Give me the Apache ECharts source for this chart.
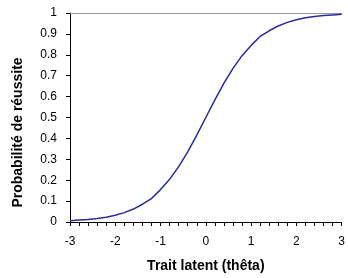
<!DOCTYPE html>
<html><head><meta charset="utf-8">
<script src="https://cdn.jsdelivr.net/npm/echarts@6/dist/echarts.min.js"></script>
<style>html,body{margin:0;padding:0;background:#fff}#c{width:348px;height:278px}</style>
</head><body><div id="c"></div>
<script>
var theta = ['-3','-2.8','-2.6','-2.4','-2.2','-2','-1.8','-1.6','-1.4','-1.2','-1','-0.8','-0.6','-0.4','-0.2','0','0.2','0.4','0.6','0.8','1','1.2','1.4','1.6','1.8','2','2.2','2.4','2.6','2.8','3'];
var prob = [0.006,0.009,0.012,0.017,0.023,0.032,0.045,0.062,0.085,0.112,0.155,0.204,0.265,0.336,0.416,0.5,0.584,0.664,0.735,0.796,0.845,0.888,0.915,0.938,0.955,0.968,0.977,0.983,0.988,0.991,0.994];
var xTitle = 'Trait latent (thêta)';
var yTitle = 'Probabilité de réussite';
var chart = echarts.init(document.getElementById('c'));
var font = 'Liberation Sans, Arial, sans-serif';
chart.setOption({
  animation:false,
  grid:{left:70,right:4,top:13,bottom:54},
  xAxis:[{
    type:'category', data:theta, boundaryGap:false,
    axisLine:{lineStyle:{color:'#000',width:1}},
    axisTick:{interval:0,length:4,lineStyle:{color:'#000'}},
    axisLabel:{interval:4,color:'#000',fontFamily:font,fontSize:12,margin:14},
    name:xTitle, nameLocation:'middle', nameGap:37,
    nameTextStyle:{color:'#000',fontFamily:font,fontSize:14,fontWeight:'bold'}
  },{
    type:'category', data:theta, boundaryGap:false, position:'top',
    axisLine:{lineStyle:{color:'#999',width:1}},
    axisTick:{show:false}, axisLabel:{show:false}
  }],
  yAxis:{
    type:'value', min:0, max:1, interval:0.1,
    splitLine:{show:false},
    axisLine:{show:true,lineStyle:{color:'#000',width:1}},
    axisTick:{show:true,length:4,lineStyle:{color:'#000'}},
    axisLabel:{color:'#000',fontFamily:font,fontSize:12,margin:13,
      formatter:function(v){return String(Math.round(v*10)/10);}},
    name:yTitle, nameLocation:'middle', nameGap:45,
    nameTextStyle:{color:'#000',fontFamily:font,fontSize:14,fontWeight:'bold',padding:[0,30,0,0]}
  },
  series:[{
    type:'line', data:prob, symbol:'none', smooth:false,
    lineStyle:{color:'#2a2a9c',width:1.5}
  }]
});
</script></body></html>
